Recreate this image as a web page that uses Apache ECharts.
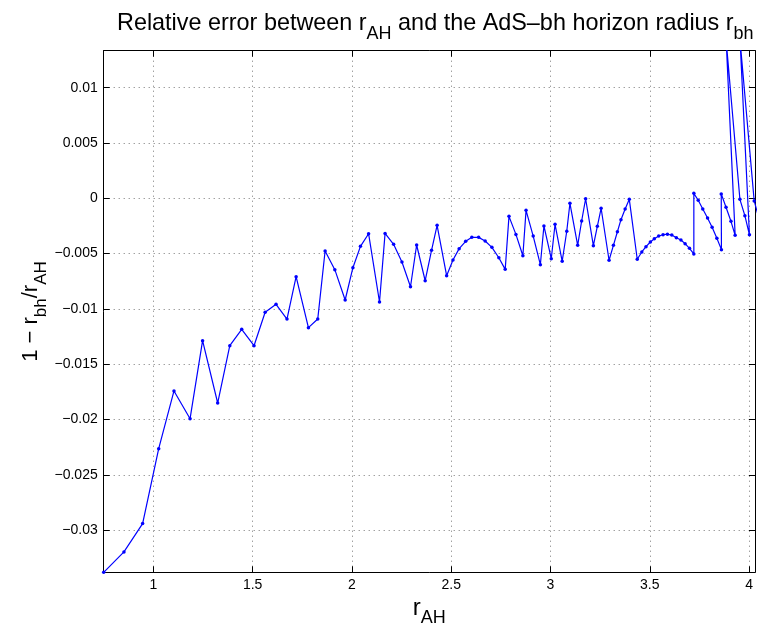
<!DOCTYPE html>
<html>
<head>
<meta charset="utf-8">
<script src="https://cdn.jsdelivr.net/npm/echarts@6/dist/echarts.min.js"></script>
<style>
html,body{margin:0;padding:0;background:#fff;}
#c{width:757px;height:626px;}
</style>
</head>
<body>
<div id="c"></div>
<script>
// r_AH values (x)
const rAH = [
  0.75, 0.852, 0.946, 1.027, 1.104, 1.185, 1.248, 1.324, 1.385, 1.445,
  1.507, 1.563, 1.618, 1.673, 1.719, 1.781, 1.828, 1.865, 1.914, 1.966,
  2.005, 2.043, 2.084, 2.139, 2.167, 2.210, 2.252, 2.295, 2.326, 2.369,
  2.401, 2.429, 2.477, 2.509, 2.540, 2.573, 2.604, 2.638, 2.671, 2.705,
  2.740, 2.772, 2.791, 2.826, 2.861, 2.877, 2.913, 2.949, 2.967, 3.004,
  3.023, 3.059, 3.082, 3.098, 3.137, 3.157, 3.177, 3.216, 3.236, 3.255,
  3.295, 3.317, 3.337, 3.355, 3.376, 3.397, 3.437, 3.460, 3.481, 3.503,
  3.523, 3.545, 3.567, 3.589, 3.611, 3.634, 3.657, 3.678, 3.700, 3.722,
  3.722, 3.744, 3.767, 3.791, 3.814, 3.838, 3.861, 3.860, 3.884, 3.909,
  3.930, 3.885, 3.954, 3.979, 4.002, 3.955, 4.026, 4.060
];
// relative error 1 - r_bh/r_AH (y)
const relErr = [
  -0.0338, -0.03196, -0.0294, -0.02263, -0.01741, -0.01992, -0.01287, -0.0185, -0.01332, -0.01184,
  -0.01332, -0.0103, -0.00958, -0.01091, -0.00708, -0.01169, -0.01091, -0.00476, -0.00645, -0.00919,
  -0.00627, -0.00434, -0.0032, -0.00937, -0.00317, -0.00416, -0.00576, -0.00799, -0.00422, -0.00745,
  -0.0047, -0.00244, -0.00699, -0.00558, -0.00455, -0.00389, -0.00353, -0.00353, -0.00386, -0.00443,
  -0.00537, -0.00642, -0.00163, -0.00326, -0.00519, -0.00109, -0.00341, -0.006, -0.0025, -0.00546,
  -0.00235, -0.00569, -0.00298, -0.00045, -0.00425, -0.00205, -0.00004, -0.00428, -0.00253, -0.0009,
  -0.0056, -0.00425, -0.00302, -0.00193, -0.00097, -0.00009, -0.00551, -0.00485, -0.00437, -0.00395,
  -0.00365, -0.00341, -0.00329, -0.00325, -0.00332, -0.00356, -0.00377, -0.0041, -0.00452, -0.00503,
  0.00045, -0.00018, -0.00097, -0.00178, -0.00262, -0.00361, -0.00464, 0.0004, -0.00081, -0.00208,
  -0.00335, 0.0142, -0.00009, -0.00157, -0.0033, 0.0142, -0.00024, -0.0025
];
const xLimits = [0.75, 4.03];
const yLimits = [-0.0338, 0.01334];

const FONT = 'Liberation Sans';
const points = rAH.map((x, i) => [x, relErr[i]]);

const chart = echarts.init(document.getElementById('c'), null, {renderer: 'canvas'});
const gridLine = {show: true, lineStyle: {color: '#777', width: 1, type: [1, 4]}};
const fmtY = v => String(+v.toFixed(4)).replace('-', '\u2212');
const mainStyle = size => ({fontFamily: FONT, fontSize: size, fontWeight: 'normal', color: '#000', verticalAlign: 'middle'});
const subStyle = (size, drop) => ({fontFamily: FONT, fontSize: size, fontWeight: 'normal', color: '#000', verticalAlign: 'middle', padding: [drop, 0, 0, 0]});

chart.setOption({
  animation: false,
  backgroundColor: '#fff',
  title: {
    text: '{m|Relative error between r}{s|AH}{m| and the AdS\u2013bh horizon radius r}{s|bh}',
    left: 112,
    top: 0,
    textStyle: {
      fontWeight: 'normal',
      rich: {m: mainStyle(23.4), s: subStyle(18, 20)}
    }
  },
  grid: {left: 103.7, top: 50.7, width: 651.3, height: 521.6, containLabel: false, outerBoundsMode: 'none'},
  xAxis: [{
    type: 'value', position: 'bottom',
    min: xLimits[0], max: xLimits[1], splitNumber: 7,
    name: '{m|r}{s|AH}', nameLocation: 'middle', nameGap: 17, nameMoveOverlap: false,
    nameTextStyle: {rich: {m: mainStyle(24), s: subStyle(18, 20)}},
    axisLine: {show: true, onZero: false, lineStyle: {color: '#000', width: 1}},
    axisTick: {show: true, inside: true, length: 6, lineStyle: {color: '#000'}},
    axisLabel: {fontFamily: FONT, fontSize: 14, color: '#000', margin: 6, showMinLabel: false, showMaxLabel: false},
    splitLine: gridLine
  }, {
    type: 'value', position: 'top',
    min: xLimits[0], max: xLimits[1], splitNumber: 7,
    axisLine: {show: true, onZero: false, lineStyle: {color: '#000', width: 1}},
    axisTick: {show: true, inside: true, length: 6, lineStyle: {color: '#000'}},
    axisLabel: {show: false},
    splitLine: {show: false}
  }],
  yAxis: [{
    type: 'value', position: 'left',
    min: yLimits[0], max: yLimits[1], splitNumber: 9,
    name: '{m|1 \u2212 r}{s|bh}{m|/r}{s|AH}', nameLocation: 'middle', nameRotate: 90, nameGap: 54, nameMoveOverlap: false,
    nameTextStyle: {rich: {m: mainStyle(22), s: subStyle(17, 20)}},
    axisLine: {show: true, onZero: false, lineStyle: {color: '#000', width: 1}},
    axisTick: {show: true, inside: true, length: 6, lineStyle: {color: '#000'}},
    axisLabel: {fontFamily: FONT, fontSize: 14, color: '#000', margin: 6, showMinLabel: false, showMaxLabel: false, formatter: fmtY},
    splitLine: gridLine
  }, {
    type: 'value', position: 'right',
    min: yLimits[0], max: yLimits[1], splitNumber: 9,
    axisLine: {show: true, onZero: false, lineStyle: {color: '#000', width: 1}},
    axisTick: {show: true, inside: true, length: 6, lineStyle: {color: '#000'}},
    axisLabel: {show: false},
    splitLine: {show: false}
  }],
  series: [{
    type: 'line',
    xAxisIndex: 0, yAxisIndex: 0,
    data: points,
    clip: true,
    symbol: 'circle', symbolSize: 3.5,
    showAllSymbol: true,
    lineStyle: {color: '#0000ff', width: 1.2},
    itemStyle: {color: '#0000ff'}
  }]
});
</script>
</body>
</html>
